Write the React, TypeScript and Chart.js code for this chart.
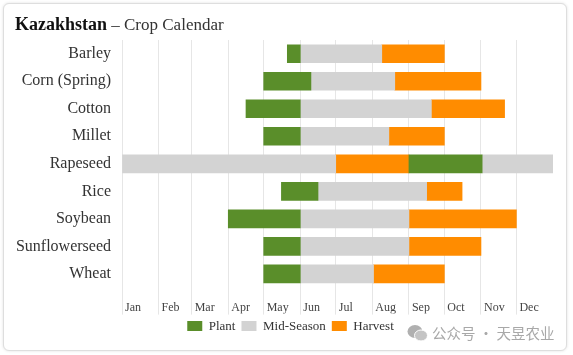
import React, { useEffect, useRef } from 'react';
import { Chart, registerables } from 'chart.js';

Chart.register(...registerables);

// Categories (crops)
const crops = ['Barley', 'Corn (Spring)', 'Cotton', 'Millet', 'Rapeseed', 'Rice', 'Soybean', 'Sunflowerseed', 'Wheat'];

// Day-of-year ranges [start, end]
const plant: [number, number][] = [
  [140, 151], [120, 160], [105, 151], [120, 151], [243, 305], [135, 166], [90, 151], [120, 151], [120, 151],
];
const midSeason: [number, number][] = [
  [151, 220], [160, 231], [151, 262], [151, 226], [0, 181], [166, 258], [151, 243], [151, 243], [151, 213],
];
const midSeasonLate: ([number, number] | null)[] = [
  null, null, null, null, [305, 365], null, null, null, null,
];
const harvest: [number, number][] = [
  [220, 273], [231, 304], [262, 324], [226, 273], [181, 243], [258, 288], [243, 334], [243, 304], [213, 273],
];

// X-axis ticks (month starts, day of year) and their labels
const monthStarts = [0, 31, 59, 90, 120, 151, 181, 212, 243, 273, 304, 334];
const monthLabels = ['Jan', 'Feb', 'Mar', 'Apr', 'May', 'Jun', 'Jul', 'Aug', 'Sep', 'Oct', 'Nov', 'Dec'];

const GREEN = '#5a8e2a';
const GREY = '#d3d3d3';
const ORANGE = '#ff8c00';
const SERIF = "'Liberation Serif', 'Times New Roman', serif";

const legendShift = {
  id: 'legendShift',
  afterLayout(chart: any) {
    const lg = chart.legend;
    if (lg) {
      lg.left += 14;
      lg.right += 14;
    }
  },
};

export default function App() {
  const ref = useRef<HTMLCanvasElement>(null);

  useEffect(() => {
    const chart = new Chart(ref.current as HTMLCanvasElement, {
      type: 'bar',
      data: {
        labels: crops,
        datasets: [
          { label: 'Plant', data: plant as any, backgroundColor: GREEN },
          { label: 'Mid-Season', data: midSeason as any, backgroundColor: GREY },
          { label: 'Harvest', data: harvest as any, backgroundColor: ORANGE },
          { label: 'Mid-Season (late)', data: midSeasonLate as any, backgroundColor: GREY },
        ],
      },
      options: {
        indexAxis: 'y',
        responsive: false,
        animation: false,
        datasets: { bar: { grouped: false, barThickness: 18, borderWidth: 0 } } as any,
        layout: { padding: { top: 40, right: 20, left: 0, bottom: 12.4 } },
        scales: {
          x: {
            type: 'linear',
            min: 0,
            max: 365,
            afterBuildTicks: (s: any) => {
              s.ticks = monthStarts.map((v) => ({ value: v }));
            },
            afterFit: (s: any) => {
              s.height = 26;
            },
            ticks: {
              autoSkip: false,
              maxRotation: 0,
              minRotation: 0,
              align: 'start',
              padding: -14,
              color: '#444',
              font: { family: SERIF, size: 12 },
              callback: (_v: any, i: number) => ' ' + monthLabels[i],
            },
            grid: { color: '#e6e6e6', tickLength: 27, drawTicks: true },
            border: { display: false },
          },
          y: {
            grid: { display: false, drawTicks: false },
            border: { display: false },
            ticks: { padding: 11, color: '#333', font: { family: SERIF, size: 16 } },
            afterFit: (s: any) => {
              s.width = 122;
            },
          },
        },
        plugins: {
          legend: {
            position: 'bottom',
            labels: {
              filter: (item: any) => item.datasetIndex !== 3,
              boxWidth: 15,
              boxHeight: 10,
              padding: 6,
              color: '#333',
              font: { family: SERIF, size: 13 },
            },
          },
          tooltip: { enabled: false },
          title: { display: false },
        },
      },
      plugins: [legendShift],
    });
    return () => chart.destroy();
  }, []);

  return (
    <div>
      <div
        style={{
          position: 'absolute',
          left: 3,
          top: 3,
          width: 562,
          height: 346,
          border: '1px solid #dedede',
          borderRadius: 6,
          boxShadow: '0 0 3px rgba(0,0,0,0.12)',
          background: '#fff',
        }}
      />
      <canvas ref={ref} width={573} height={355} style={{ position: 'absolute', left: 0, top: 0 }} />
      <div
        style={{
          position: 'absolute',
          left: 15,
          top: 15,
          lineHeight: '18px',
          whiteSpace: 'nowrap',
          fontFamily: SERIF,
        }}
      >
        <span style={{ fontWeight: 'bold', fontSize: 18, color: '#111' }}>Kazakhstan</span>
        <span style={{ fontSize: 17, color: '#333' }}> – Crop Calendar</span>
      </div>
      <div
        style={{
          position: 'absolute',
          left: 407,
          top: 323,
          display: 'flex',
          alignItems: 'center',
          whiteSpace: 'nowrap',
          color: '#a8a8a8',
          fontFamily: "'Noto Sans CJK SC', sans-serif",
          fontSize: 14.5,
          lineHeight: '20px',
        }}
      >
        <svg width="21" height="18" viewBox="0 0 21 18" style={{ marginRight: 4 }}>
          <ellipse cx="8" cy="7.5" rx="7.5" ry="6.5" fill="#b0b0b0" />
          <ellipse cx="14" cy="11.5" rx="6.5" ry="5.5" fill="#c4c4c4" stroke="#fff" strokeWidth="1" />
        </svg>
        <span>公众号 · 天昱农业</span>
      </div>
    </div>
  );
}
